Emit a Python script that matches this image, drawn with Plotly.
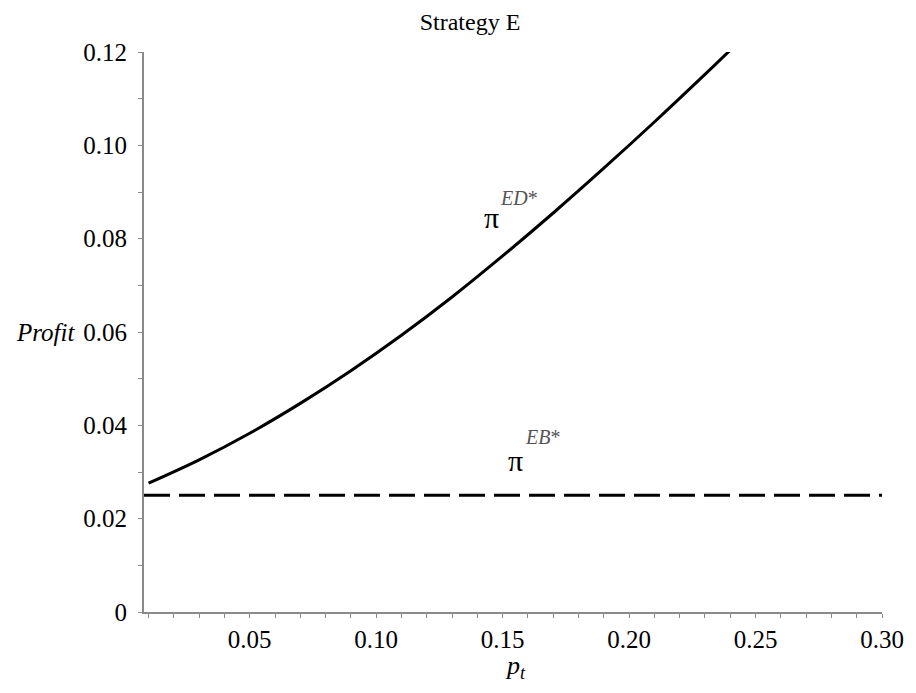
import plotly.graph_objects as go

# Data
p_t = [0.01, 0.03, 0.05, 0.07, 0.09, 0.11, 0.13, 0.15, 0.17, 0.19, 0.21, 0.23, 0.24]
profit_ED = [0.0276, 0.0326, 0.0383, 0.0447, 0.0517, 0.0593, 0.0675, 0.0763,
             0.0855, 0.0951, 0.1050, 0.1152, 0.1204]
p_t_EB = [0.0082, 0.30]
profit_EB = [0.025, 0.025]

x_ticks = [0.05, 0.10, 0.15, 0.20, 0.25, 0.30]
x_ticktext = ["0.05", "0.10", "0.15", "0.20", "0.25", "0.30"]
y_ticks = [0, 0.02, 0.04, 0.06, 0.08, 0.10, 0.12]
y_ticktext = ["0", "0.02", "0.04", "0.06", "0.08", "0.10", "0.12"]

SERIF = "Liberation Serif, Times New Roman, serif"
AXIS_GRAY = "#8a8a8a"
L, R, T, B = 143.5, 29, 52, 81
W, H = 916, 693

fig = go.Figure()
fig.add_trace(go.Scatter(x=p_t, y=profit_ED, mode="lines", line_shape="spline",
                         line=dict(color="black", width=3), showlegend=False,
                         hoverinfo="skip"))
fig.add_trace(go.Scatter(x=p_t_EB, y=profit_EB, mode="lines",
                         line=dict(color="black", width=3, dash="26px,9px"),
                         showlegend=False, hoverinfo="skip"))

ann = []
# pi^{ED*}
ann.append(dict(x=0.1454, y=0.0846, text="π", showarrow=False, xref="x", yref="y",
                font=dict(family=SERIF, size=30, color="black")))
ann.append(dict(x=0.1564, y=0.0888, text="<i>ED</i>*", showarrow=False, xref="x", yref="y",
                font=dict(family=SERIF, size=20, color="#555555")))
# pi^{EB*}
ann.append(dict(x=0.1552, y=0.0325, text="π", showarrow=False, xref="x", yref="y",
                font=dict(family=SERIF, size=30, color="black")))
ann.append(dict(x=0.1658, y=0.0375, text="<i>EB</i>*", showarrow=False, xref="x", yref="y",
                font=dict(family=SERIF, size=20, color="#555555")))
# axis titles
ann.append(dict(x=(44 - L) / (W - L - R), y=0.06, text="<i>Profit</i>", showarrow=False,
                xref="paper", yref="y", xanchor="center",
                font=dict(family=SERIF, size=25, color="black")))
ann.append(dict(x=0.155, y=-(667 - (H - B)) / (H - T - B), text="<i>p<sub>t</sub></i>",
                showarrow=False, xref="x", yref="paper", yanchor="middle",
                font=dict(family=SERIF, size=26, color="black")))

fig.update_layout(
    width=W, height=H,
    margin=dict(l=L, r=R, t=T, b=B),
    paper_bgcolor="white", plot_bgcolor="white",
    title=dict(text="Strategy E", x=470 / W, xref="container", xanchor="center",
               y=1 - 22 / H, yref="container", yanchor="middle",
               font=dict(family=SERIF, size=24, color="black")),
    annotations=ann,
    showlegend=False,
)
fig.update_xaxes(range=[0.0082, 0.30], tickvals=x_ticks, ticktext=x_ticktext,
                 showgrid=False, zeroline=False, showline=True, linecolor=AXIS_GRAY,
                 linewidth=2, ticks="outside", ticklen=4, tickcolor=AXIS_GRAY,
                 ticklabelstandoff=0,
                 tickfont=dict(family=SERIF, size=25, color="black"),
                 minor=dict(ticks="outside", ticklen=4, dtick=0.01, tick0=0,
                            tickcolor=AXIS_GRAY, showgrid=False))
fig.update_yaxes(range=[0, 0.12], tickvals=y_ticks, ticktext=y_ticktext,
                 showgrid=False, zeroline=False, showline=True, linecolor=AXIS_GRAY,
                 linewidth=2, ticks="outside", ticklen=4, tickcolor=AXIS_GRAY,
                 ticklabelstandoff=6,
                 tickfont=dict(family=SERIF, size=25, color="black"),
                 minor=dict(ticks="outside", ticklen=4, dtick=0.01, tick0=0,
                            tickcolor=AXIS_GRAY, showgrid=False))

fig.write_html("out.html")
